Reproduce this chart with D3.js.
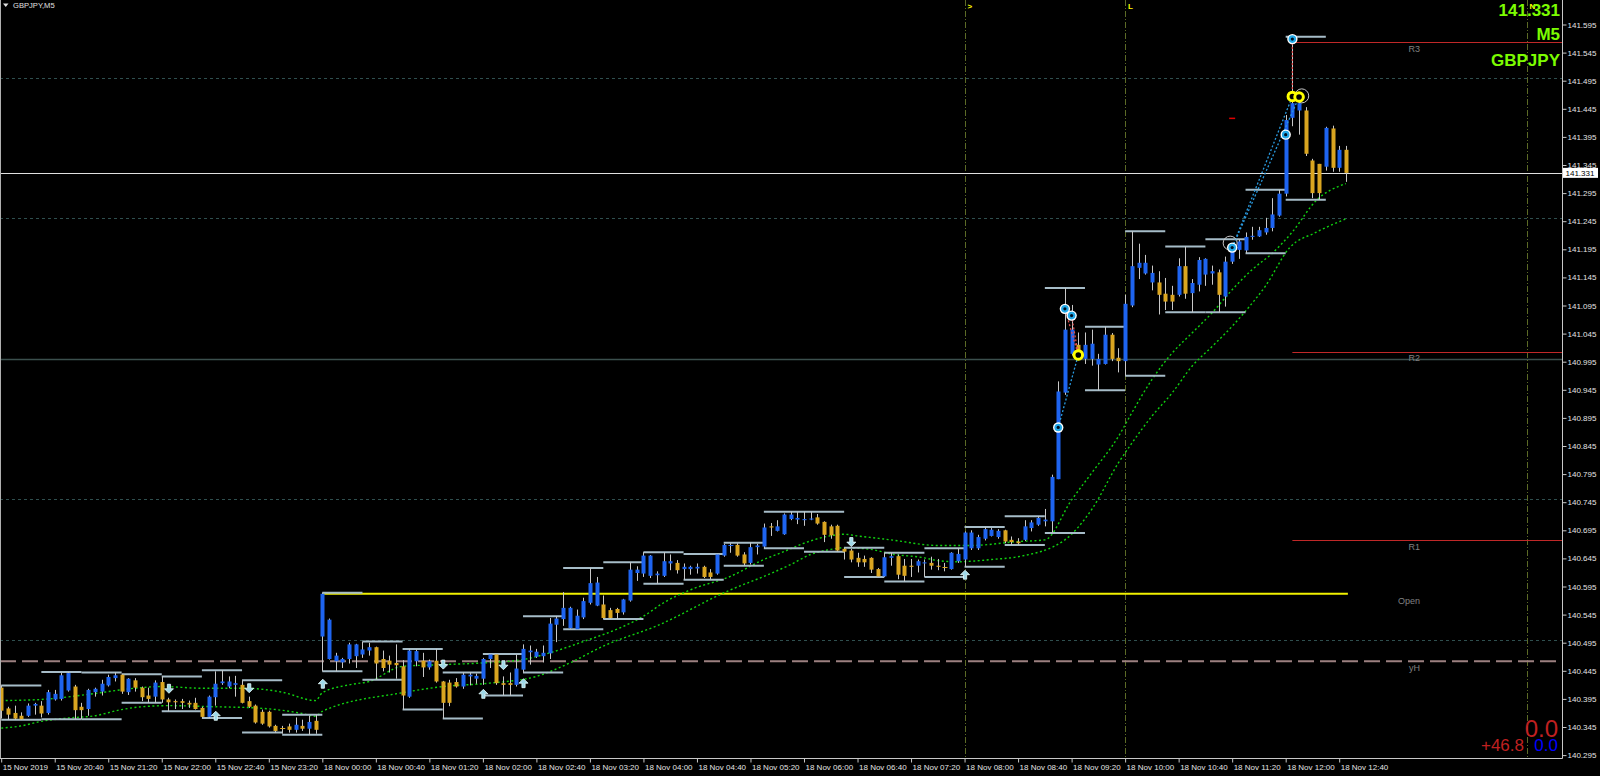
<!DOCTYPE html>
<html><head><meta charset="utf-8">
<script src="https://cdn.jsdelivr.net/npm/d3@7"></script>
<style>
body{margin:0;background:#000;overflow:hidden}
svg{display:block}
text{font-family:"Liberation Sans",Arial,sans-serif}
</style>
</head><body>
<svg id="c" width="1600" height="776"></svg>
<script>
// ---------------- DATA ----------------
const symbolTitle = "GBPJPY,M5";
const timeLabels = ["15 Nov 2019","15 Nov 20:40","15 Nov 21:20","15 Nov 22:00","15 Nov 22:40","15 Nov 23:20",
 "18 Nov 00:00","18 Nov 00:40","18 Nov 01:20","18 Nov 02:00","18 Nov 02:40","18 Nov 03:20","18 Nov 04:00",
 "18 Nov 04:40","18 Nov 05:20","18 Nov 06:00","18 Nov 06:40","18 Nov 07:20","18 Nov 08:00","18 Nov 08:40",
 "18 Nov 09:20","18 Nov 10:00","18 Nov 10:40","18 Nov 11:20","18 Nov 12:00","18 Nov 12:40"];
const timeTickBars = [0,8,16,24,32,40,48,56,64,72,80,88,96,104,112,120,128,136,144,152,160,168,176,184,192,200];
const priceTickLabels = ["141.595","141.545","141.495","141.445","141.395","141.345","141.295","141.245","141.195",
 "141.145","141.095","141.045","140.995","140.945","140.895","140.845","140.795","140.745","140.695","140.645",
 "140.595","140.545","140.495","140.445","140.395","140.345","140.295"];

// OHLC per M5 bar, bar 0 = 15 Nov 20:00
const opens = [140.415,140.378,140.370,140.365,140.365,140.383,140.383,140.370,140.394,140.395,140.410,140.417,140.381,140.377,140.407,140.408,140.419,140.432,140.438,140.407,140.428,140.415,140.401,140.399,140.425,140.394,140.391,140.391,140.388,140.388,140.379,140.363,140.398,140.423,140.417,140.420,140.420,140.391,140.383,140.372,140.372,140.347,140.344,140.346,140.340,140.347,140.342,140.356,
140.506,140.466,140.462,140.460,140.466,140.471,140.474,140.481,140.487,140.466,140.463,140.459,140.453,140.399,140.462,140.463,140.451,140.463,140.426,140.424,140.425,140.417,140.435,140.431,140.431,140.466,140.474,140.423,140.423,140.420,140.447,140.478,140.470,140.471,140.476,140.527,140.537,140.521,140.519,140.540,140.566,140.561,140.563,140.553,140.555,140.549,140.570,140.619,
140.618,140.614,140.615,140.614,140.636,140.637,140.626,140.626,140.627,140.630,140.620,140.618,140.650,140.669,140.669,140.652,140.637,140.665,140.666,140.702,140.694,140.688,140.715,140.714,140.713,140.714,140.718,140.710,140.702,140.703,140.662,140.659,140.646,140.644,140.646,140.626,140.613,140.646,140.649,140.632,140.632,140.632,140.636,140.637,140.632,140.630,140.626,140.640,
140.643,140.663,140.663,140.680,140.685,140.683,140.695,140.678,140.675,140.678,140.699,140.705,140.711,140.711,140.786,140.940,141.009,141.025,141.000,141.000,140.990,140.991,141.043,141.002,140.996,141.095,141.162,141.152,141.136,141.136,141.116,141.114,141.114,141.165,141.117,141.132,141.150,141.152,141.154,141.111,141.173,141.194,141.193,141.217,141.218,141.225,141.233,141.255,
141.294,141.429,141.442,141.442,141.353,141.347,141.342,141.410,141.340,141.372];
const highs = [140.419,140.381,140.383,140.371,140.387,140.388,140.391,140.411,140.411,140.441,140.443,140.420,140.388,140.413,140.415,140.429,140.438,140.442,140.439,140.432,140.432,140.417,140.415,140.428,140.435,140.397,140.394,140.395,140.392,140.397,140.381,140.401,140.444,140.446,140.435,140.436,140.428,140.399,140.385,140.376,140.374,140.349,140.347,140.351,140.362,140.358,140.365,140.367,
140.584,140.538,140.477,140.468,140.495,140.493,140.497,140.495,140.488,140.481,140.472,140.492,140.464,140.484,140.483,140.477,140.465,140.484,140.427,140.429,140.432,140.442,140.442,140.440,140.468,140.475,140.475,140.435,140.442,140.474,140.492,140.490,140.484,140.490,140.539,140.542,140.585,140.559,140.554,140.575,140.628,140.612,140.579,140.557,140.557,140.573,140.638,140.631,
140.656,140.651,140.622,140.656,140.652,140.642,140.636,140.632,140.636,140.632,140.626,140.653,140.671,140.672,140.672,140.656,140.673,140.671,140.707,140.708,140.713,140.725,140.728,140.728,140.728,140.728,140.724,140.711,140.705,140.705,140.664,140.662,140.655,140.650,140.647,140.628,140.655,140.655,140.652,140.644,140.644,140.643,140.643,140.648,140.644,140.637,140.656,140.663,
140.693,140.695,140.687,140.701,140.699,140.697,140.696,140.684,140.681,140.713,140.713,140.720,140.733,140.794,140.960,141.126,141.096,141.047,141.047,141.052,141.009,141.057,141.046,141.019,141.114,141.227,141.205,141.185,141.166,141.156,141.144,141.130,141.179,141.200,141.142,141.181,141.179,141.166,141.159,141.182,141.206,141.213,141.225,141.235,141.235,141.251,141.286,141.301,
141.434,141.573,141.467,141.448,141.356,141.347,141.413,141.415,141.379,141.379];
const lows = [140.360,140.358,140.358,140.358,140.363,140.367,140.362,140.367,140.392,140.392,140.408,140.359,140.359,140.365,140.399,140.401,140.417,140.426,140.404,140.402,140.408,140.391,140.388,140.388,140.388,140.373,140.377,140.377,140.379,140.376,140.361,140.361,140.383,140.420,140.414,140.399,140.387,140.379,140.351,140.349,140.344,140.335,140.333,140.335,140.335,140.338,140.331,140.333,
140.444,140.465,140.444,140.450,140.458,140.450,140.468,140.472,140.429,140.444,140.442,140.431,140.376,140.397,140.453,140.434,140.447,140.424,140.360,140.382,140.415,140.413,140.419,140.422,140.420,140.450,140.420,140.401,140.401,140.417,140.442,140.456,140.468,140.460,140.466,140.496,140.525,140.520,140.519,140.537,140.563,140.560,140.537,140.537,140.537,140.545,140.568,140.605,
140.612,140.610,140.600,140.612,140.624,140.618,140.607,140.616,140.618,140.610,140.608,140.616,140.648,140.655,140.648,140.632,140.634,140.652,140.663,140.685,140.693,140.687,140.713,140.706,140.703,140.713,140.705,140.674,140.680,140.657,140.643,140.638,140.630,140.630,140.619,140.612,140.612,140.632,140.608,140.604,140.612,140.620,140.612,140.625,140.624,140.622,140.625,140.637,
140.630,140.660,140.660,140.677,140.684,140.680,140.672,140.669,140.669,140.676,140.693,140.703,140.702,140.690,140.786,140.936,141.006,141.004,140.991,140.988,140.944,140.990,140.996,140.976,140.970,141.092,141.142,141.150,141.122,141.079,141.087,141.087,141.111,141.107,141.083,141.120,141.130,141.132,141.083,141.093,141.169,141.178,141.188,141.212,141.217,141.221,141.227,141.253,
141.289,141.414,141.399,141.361,141.286,141.283,141.335,141.333,141.333,141.315];
const closes = [140.374,140.367,140.360,140.359,140.383,140.386,140.369,140.407,140.404,140.437,140.441,140.375,140.375,140.411,140.413,140.422,140.434,140.437,140.408,140.431,140.415,140.398,140.395,140.424,140.394,140.389,140.389,140.388,140.385,140.377,140.363,140.399,140.422,140.426,140.426,140.423,140.388,140.381,140.353,140.351,140.346,140.338,140.343,140.340,140.349,140.342,140.354,140.340,
140.582,140.536,140.472,140.466,140.492,140.492,140.483,140.487,140.458,140.450,140.456,140.455,140.401,140.481,140.480,140.451,140.462,140.426,140.388,140.388,140.417,140.438,140.438,140.436,140.466,140.474,140.423,140.420,140.420,140.449,140.484,140.481,140.479,140.477,140.529,140.538,140.557,140.557,140.543,140.569,140.601,140.602,140.539,140.539,140.548,140.572,140.625,140.625,
140.650,140.650,140.618,140.640,140.640,140.624,140.630,140.630,140.630,140.612,140.612,140.652,140.669,140.669,140.650,140.636,140.665,140.668,140.700,140.700,140.702,140.723,140.723,140.717,140.715,140.716,140.707,140.687,140.686,140.659,140.657,140.643,140.638,140.638,140.625,140.613,140.647,140.649,140.616,140.614,140.630,140.640,140.638,140.632,140.630,140.629,140.655,140.653,
140.691,140.691,140.683,140.697,140.696,140.694,140.675,140.674,140.672,140.702,140.709,140.717,140.714,140.790,140.942,141.052,141.052,141.007,141.025,141.027,141.000,141.043,141.000,140.996,141.098,141.165,141.171,141.171,141.153,141.114,141.102,141.102,141.165,141.116,141.135,141.176,141.178,141.156,141.114,141.173,141.200,141.209,141.217,141.219,141.229,141.233,141.257,141.294,
141.425,141.455,141.455,141.365,141.295,141.295,141.411,141.340,141.372,141.331];

// moving averages: [bar, price]
const fastMA = [[0,140.392],[6,140.394],[13,140.403],[20,140.414],[24,140.417],[30,140.414],[36,140.414],[42,140.407],[47,140.392],[48,140.406],[52,140.420],[55,140.426],[60,140.453],[66,140.456],[72,140.459],[78,140.465],[82,140.477],[87,140.497],[93,140.524],[96,140.542],[99,140.566],[103,140.589],[109,140.613],[114,140.643],[117,140.657],[120,140.672],[123,140.683],[126,140.688],[128,140.685],[133,140.678],[140,140.668],[145,140.668],[152,140.675],[156,140.678],[160,140.749],[163,140.797],[167,140.862],[169,140.904],[172,140.963],[175,141.010],[178,141.046],[181,141.082],[184,141.123],[187,141.159],[190,141.188],[193,141.226],[196.5,141.281],[201,141.312]];
const slowMA = [[0,140.343],[3,140.347],[6,140.355],[10,140.361],[14,140.365],[18,140.376],[21,140.381],[25,140.383],[32,140.381],[38,140.379],[45,140.369],[47,140.364],[48,140.373],[60,140.406],[66,140.417],[73,140.423],[80,140.435],[85,140.459],[90,140.489],[98,140.525],[109,140.589],[114,140.613],[118,140.634],[121,140.652],[124,140.661],[126,140.664],[130,140.661],[133,140.653],[138,140.646],[140,140.641],[143,140.639],[145,140.640],[148,140.643],[152,140.648],[159,140.678],[163,140.732],[167,140.815],[169,140.850],[172,140.898],[175,140.939],[178,140.987],[181,141.022],[184,141.058],[186,141.085],[189,141.130],[192.6,141.198],[196.5,141.225],[201,141.249]];

const arrowBars = [25,32,37,48,66,72,75,78,127,144];
const arrowDirs = ["down","up","down","up","down","up","down","up","down","up"];
const arrowPrices = [140.413,140.365,140.414,140.422,140.456,140.404,140.455,140.423,140.674,140.616];

const cyanMarks = [[158,140.878],[159,141.089],[160,141.077],[184,141.198],[192,141.399],[193,141.569]];
const yellowMarks = [[161,141.007],[193,141.467],[194,141.466]];
const whiteRings = [[183.7,141.206],[194.4,141.468]];
const blueLinks = [[[158,140.878],[161,141.007]],[[184,141.198],[193,141.467]],[[184,141.198],[194,141.466]]];
const redLinks = [[[159,141.089],[161,141.007]],[[160,141.077],[161,141.007]],[[193,141.569],[193,141.467]]];
const redTick = [184,141.428];

const roundLevels = [141.5,141.25,141.0,140.75,140.5];
const pivotNames = ["R3","R2","R1"];
const pivotPrices = [141.563,141.013,140.677];
const openPrice = 140.582, yHigh = 140.462, bidPrice = 141.331;
const vLineBars = [144,168,228];
const vLineTags = [">","L","N"];
const groupSize = 6;

// ---------------- DRAW ----------------
const W=1600,H=776, plotR=1562.5, plotB=758.5;
const svg=d3.select("#c");
svg.append("rect").attr("width",W).attr("height",H).attr("fill","#000");
const x=d3.scaleLinear().domain([0,201]).range([1.2,1.2+6.69*201]);
const y=d3.scaleLinear().domain([140.295,141.595]).range([755.1,24.5]);
const P=v=>Math.round(v)+0.5;

const g=svg.append("g");
// round levels
roundLevels.forEach(v=>{
  const solid = Math.abs(v-141.0)<1e-9;
  g.append("line").attr("x1",0).attr("x2",plotR).attr("y1",P(y(v))).attr("y2",P(y(v)))
   .attr("stroke",solid?"#3b4f4d":"#2f4f4f").attr("stroke-width",solid?1.6:1)
   .attr("stroke-dasharray",solid?null:"3,3");
});
// vertical dash-dot lines
vLineBars.forEach((b,i)=>{
  g.append("line").attr("x1",P(x(b))).attr("x2",P(x(b))).attr("y1",0).attr("y2",plotB)
   .attr("stroke","#5c6a26").attr("stroke-dasharray","6,2,1,2");
  g.append("text").attr("x",x(b)+3).attr("y",9).attr("fill","#ffff00").attr("font-size",8).attr("font-weight","bold").text(vLineTags[i]);
});
// yH dashed
g.append("line").attr("x1",0).attr("x2",plotR).attr("y1",y(yHigh)).attr("y2",y(yHigh))
 .attr("stroke","#9c8080").attr("stroke-width",2).attr("stroke-dasharray","16,6");
// pivots
pivotPrices.forEach((v,i)=>{
  g.append("line").attr("x1",x(193)).attr("x2",plotR).attr("y1",P(y(v))).attr("y2",P(y(v))).attr("stroke","#c02828");
  g.append("text").attr("x",1420).attr("y",y(v)+9.5).attr("text-anchor","end").attr("fill","#808080").attr("font-size",9).text(pivotNames[i]);
});
// open
g.append("line").attr("x1",x(48)).attr("x2",x(201)+2).attr("y1",y(openPrice)).attr("y2",y(openPrice))
 .attr("stroke","#f0f000").attr("stroke-width",2);
g.append("text").attr("x",1420).attr("y",y(openPrice)+10).attr("text-anchor","end").attr("fill","#808080").attr("font-size",9).text("Open");
g.append("text").attr("x",1420).attr("y",y(yHigh)+9.5).attr("text-anchor","end").attr("fill","#808080").attr("font-size",9).text("yH");
// bid line
g.append("line").attr("x1",0).attr("x2",plotR).attr("y1",P(y(bidPrice))).attr("y2",P(y(bidPrice))).attr("stroke","#e0e0e0");

// MAs
const maLine=d3.line().x(d=>x(d[0])).y(d=>y(d[1])).curve(d3.curveMonotoneX);
[fastMA,slowMA].forEach(a=>{
  g.append("path").attr("d",maLine(a)).attr("fill","none").attr("stroke","#10d010").attr("stroke-width",1.4).attr("stroke-dasharray","2,2.5");
});

// group (M30) high/low lines
const nGroups=Math.floor(opens.length/groupSize);
for(let k=0;k<nGroups;k++){
  const s=k*groupSize, e=s+groupSize;
  const hi=d3.max(highs.slice(s,e)), lo=d3.min(lows.slice(s,e));
  [hi,lo].forEach(v=>{
    g.append("line").attr("x1",x(s)).attr("x2",x(e)).attr("y1",y(v)).attr("y2",y(v))
     .attr("stroke","#a6bcc8").attr("stroke-width",2);
  });
}

// candles
const cg=g.append("g");
opens.forEach((o,i)=>{
  const c=closes[i], xi=x(i);
  cg.append("line").attr("x1",P(xi)).attr("x2",P(xi)).attr("y1",y(highs[i])).attr("y2",y(lows[i]))
    .attr("stroke","#c8c8c8").attr("stroke-width",1);
  const top=y(Math.max(o,c)), bot=y(Math.min(o,c));
  if(bot-top<1){
    cg.append("line").attr("x1",xi-2).attr("x2",xi+3).attr("y1",P(top)).attr("y2",P(top)).attr("stroke",c>=o?"#1e64f0":"#daa520");
  } else {
    cg.append("rect").attr("x",Math.round(xi)-1.5).attr("y",top).attr("width",4).attr("height",bot-top)
      .attr("fill",c>o?"#1e64f0":"#daa520");
  }
});

// arrows
arrowBars.forEach((b,i)=>{
  const cx=x(b)+0.5, cy=y(arrowPrices[i]), s=arrowDirs[i]==="up"?1:-1;
  const p=`M${cx},${cy-4.5*s} L${cx+4.5},${cy} L${cx+1.6},${cy} L${cx+1.6},${cy+4.5*s} L${cx-1.6},${cy+4.5*s} L${cx-1.6},${cy} L${cx-4.5},${cy} Z`;
  g.append("path").attr("d",p).attr("fill","#9fd8e8").attr("stroke","#e8ffff").attr("stroke-width",0.8);
});

// links
const pt=d=>[x(d[0]),y(d[1])];
blueLinks.forEach(l=>{
  const a=pt(l[0]),b=pt(l[1]);
  g.append("line").attr("x1",a[0]).attr("y1",a[1]).attr("x2",b[0]).attr("y2",b[1]).attr("stroke","#2a9be0").attr("stroke-width",1.3).attr("stroke-dasharray","2,2");
});
redLinks.forEach(l=>{
  const a=pt(l[0]),b=pt(l[1]);
  g.append("line").attr("x1",a[0]).attr("y1",a[1]).attr("x2",b[0]).attr("y2",b[1]).attr("stroke","#e05050").attr("stroke-width",1.3).attr("stroke-dasharray","2,2");
});
g.append("line").attr("x1",x(redTick[0])-3).attr("x2",x(redTick[0])+3).attr("y1",y(redTick[1])).attr("y2",y(redTick[1])).attr("stroke","#e00000").attr("stroke-width",1.5);
// markers
whiteRings.forEach(d=>{
  g.append("circle").attr("cx",x(d[0])).attr("cy",y(d[1])).attr("r",7).attr("fill","none").attr("stroke","#c8c8c8").attr("stroke-width",1);
});
yellowMarks.forEach(d=>{
  g.append("circle").attr("cx",x(d[0])).attr("cy",y(d[1])).attr("r",4.3).attr("fill","#000").attr("stroke","#ffff00").attr("stroke-width",3);
});
cyanMarks.forEach(d=>{
  g.append("circle").attr("cx",x(d[0])).attr("cy",y(d[1])).attr("r",5.2).attr("fill","#ffffff");
  g.append("circle").attr("cx",x(d[0])).attr("cy",y(d[1])).attr("r",3.8).attr("fill","#20a8e8");
  g.append("circle").attr("cx",x(d[0])).attr("cy",y(d[1])).attr("r",1.6).attr("fill","#001020");
});

// big info texts
const info=[["141.331",16,17],["M5",40,17],["GBPJPY",66,17]];
info.forEach(t=>{
  svg.append("text").attr("x",1560).attr("y",t[1]).attr("text-anchor","end").attr("fill","#7cfc00")
    .attr("font-size",t[2]).attr("font-weight","bold").text(t[0]);
});
svg.append("text").attr("x",1558).attr("y",737).attr("text-anchor","end").attr("fill","#c02020").attr("font-size",24).text("0.0");
svg.append("text").attr("x",1524).attr("y",751).attr("text-anchor","end").attr("fill","#c02020").attr("font-size",17).text("+46.8");
svg.append("text").attr("x",1558).attr("y",751).attr("text-anchor","end").attr("fill","#0000ff").attr("font-size",17).text("0.0");

// title
svg.append("path").attr("d","M3,3.5 L8.5,3.5 L5.75,7 Z").attr("fill","#e0e0e0");
svg.append("text").attr("x",13).attr("y",8).attr("fill","#e0e0e0").attr("font-size",7.6).text(symbolTitle);

// axes
svg.append("line").attr("x1",0.5).attr("x2",0.5).attr("y1",0).attr("y2",plotB).attr("stroke","#b0b0b0");
svg.append("line").attr("x1",plotR).attr("x2",plotR).attr("y1",0).attr("y2",plotB).attr("stroke","#c8c8c8");
svg.append("line").attr("x1",0).attr("x2",plotR).attr("y1",plotB).attr("y2",plotB).attr("stroke","#c8c8c8");

const yAxis=d3.axisRight(y).tickValues(priceTickLabels.map(Number)).tickFormat((d,i)=>priceTickLabels[i]).tickSize(4).tickPadding(1);
const ya=svg.append("g").attr("transform",`translate(${plotR},0)`).call(yAxis);
ya.select(".domain").remove();
ya.selectAll("line").attr("stroke","#c8c8c8");
ya.selectAll("text").attr("fill","#e4e4e4").attr("font-size",8).attr("font-family","Liberation Sans, Arial");

const xAxis=d3.axisBottom(x).tickValues(timeTickBars).tickFormat((d,i)=>timeLabels[i]).tickSize(4).tickPadding(2);
const xa=svg.append("g").attr("transform",`translate(0,${plotB})`).call(xAxis);
xa.select(".domain").remove();
xa.selectAll("line").attr("stroke","#c8c8c8");
xa.selectAll("text").attr("fill","#e4e4e4").attr("font-size",8).attr("font-family","Liberation Sans, Arial")
  .attr("text-anchor","start").attr("dx",1);

// bid label box
svg.append("rect").attr("x",plotR+0.5).attr("y",y(bidPrice)-5).attr("width",35).attr("height",10).attr("fill","#ffffff");
svg.append("text").attr("x",plotR+3).attr("y",y(bidPrice)+3).attr("fill","#000").attr("font-size",8).text(bidPrice.toFixed(3));
</script>
</body></html>
